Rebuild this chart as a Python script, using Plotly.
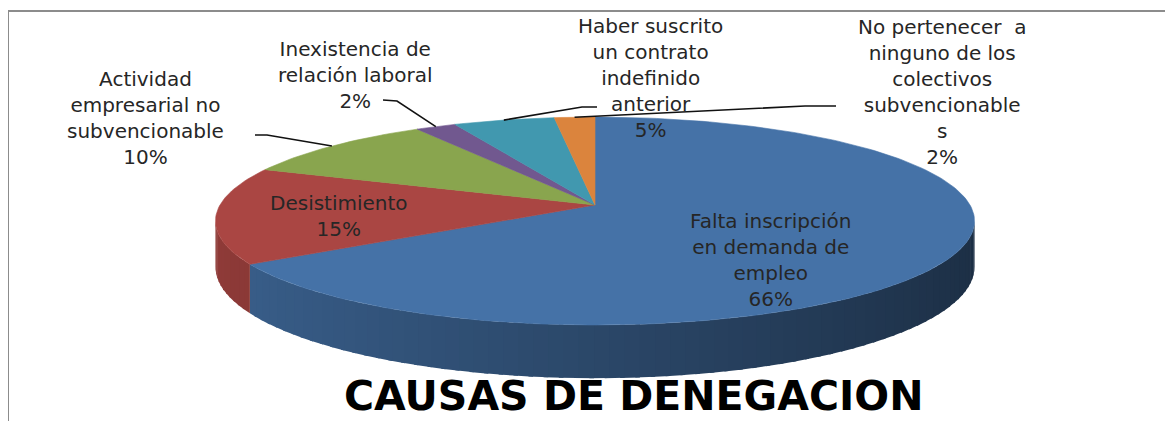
import numpy as np
import plotly.graph_objects as go

# data
categories = [
    'Falta inscripción en demanda de empleo',
    'Desistimiento',
    'Actividad empresarial no subvencionable',
    'Inexistencia de relación laboral',
    'Haber suscrito un contrato indefinido anterior',
    'No pertenecer a ninguno de los colectivos subvencionables',
]
values = [66, 15, 10, 2, 5, 2]
label_lines = [
    'Falta inscripción<br>en demanda de<br>empleo',
    'Desistimiento',
    'Actividad<br>empresarial no<br>subvencionable',
    'Inexistencia de<br>relación laboral',
    'Haber suscrito<br>un contrato<br>indefinido<br>anterior',
    'No pertenecer  a<br>ninguno de los<br>colectivos<br>subvencionable<br>s',
]
chart_title = 'CAUSAS DE DENEGACION'

colors = ['#4572a7', '#aa4643', '#89a54e', '#71588f', '#4198af', '#db843d']

# layout of the 3d-looking pie (page pixel space; the page body has an 8px margin)
W, H, OFF = 1173, 421, 8
CX, CY = 595, 205
A, B, K, DEPTH = 375, 101.5, 0.154, 45

label_pos = [(771, 260), (339, 216), (145, 118), (355, 75), (650, 78), (942, 92)]
leader_ends = {
    2: [(267, 135), (255, 135)],
    3: [(397, 101), (383, 100)],
    4: [(582, 107), (597, 107)],
    5: [(805, 106), (836, 106)],
}


def proj(theta, drop=0.0):
    u, v = np.sin(theta), np.cos(theta)
    d = 1 + K * v
    return CX + A * u / d, CY - B * v / d + drop / d


def shade(hex_col, f):
    r, g, b = (int(hex_col[i:i + 2], 16) for i in (1, 3, 5))
    return 'rgb({0},{1},{2})'.format(int(r * f), int(g * f), int(b * f))


total = float(sum(values))
bounds = np.concatenate([[0], np.cumsum(values)]) / total * 2 * np.pi

fig = go.Figure()

# side walls (only the front part is visible)
s1 = np.arccos(-K)
s2 = 2 * np.pi - s1
step = np.radians(2)
for i, c in enumerate(colors):
    a0, a1 = max(bounds[i], s1), min(bounds[i + 1], s2)
    if a1 <= a0:
        continue
    edges = np.linspace(a0, a1, int(np.ceil((a1 - a0) / step)) + 1)
    for t0, t1 in zip(edges[:-1], edges[1:]):
        ts = np.linspace(t0, min(t1 + np.radians(0.6), a1), 4)
        xt, yt = proj(ts)
        xb, yb = proj(ts[::-1], DEPTH)
        f = 0.63 - 0.22 * np.sin((t0 + t1) / 2)
        col = shade(c, f)
        fig.add_trace(go.Scatter(
            x=np.concatenate([xt, xb]), y=np.concatenate([yt, yb]),
            fill='toself', fillcolor=col, mode='lines',
            line=dict(color=col, width=0), hoverinfo='skip'
        ))

# top face
for i, c in enumerate(colors):
    ts = np.linspace(bounds[i], bounds[i + 1], max(8, int(values[i] * 3)))
    xs, ys = proj(ts)
    pct = round(values[i] / total * 100)
    fig.add_trace(go.Scatter(
        x=np.concatenate([[CX], xs, [CX]]), y=np.concatenate([[CY], ys, [CY]]),
        fill='toself', fillcolor=c, mode='lines', line=dict(color=c, width=0.6),
        hoveron='fills', name=categories[i],
        text='{0}: {1} ({2}%)'.format(categories[i], values[i], pct), hoverinfo='text'
    ))

# leader lines
for i, pts in leader_ends.items():
    mid = (bounds[i] + bounds[i + 1]) / 2
    ax, ay = proj(mid)
    fig.add_trace(go.Scatter(
        x=[ax] + [p[0] for p in pts], y=[ay] + [p[1] for p in pts],
        mode='lines', line=dict(color='#111111', width=1.6), hoverinfo='skip'
    ))

for i in range(len(values)):
    pct = round(values[i] / total * 100)
    fig.add_annotation(
        x=label_pos[i][0], y=label_pos[i][1], xref='x', yref='y',
        text='{0}<br>{1}%'.format(label_lines[i], pct), showarrow=False,
        xanchor='center', yanchor='middle', align='center',
        font=dict(family='DejaVu Sans', size=20, color='#262626')
    )

fig.add_annotation(
    x=634, y=396, xref='x', yref='y', text='<b>' + chart_title + '</b>',
    showarrow=False, xanchor='center', yanchor='middle',
    font=dict(family='DejaVu Sans', size=41, color='#000000')
)

fig.add_shape(type='rect', xref='x', yref='y', x0=8, y0=11, x1=W + 20, y1=H + 20,
              line=dict(color='#8c8c8c', width=2), layer='above')

fig.update_layout(
    width=W - OFF, height=H - OFF, autosize=False,
    margin=dict(l=0, r=0, t=0, b=0),
    paper_bgcolor='white', plot_bgcolor='white',
    showlegend=False,
    xaxis=dict(range=[OFF, W], visible=False, fixedrange=True),
    yaxis=dict(range=[H, OFF], visible=False, fixedrange=True),
)

fig.write_html('out.html')
